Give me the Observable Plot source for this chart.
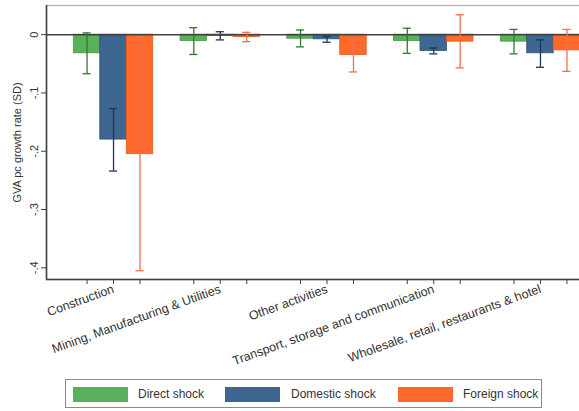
<!DOCTYPE html>
<html><head><meta charset="utf-8">
<script src="https://cdn.jsdelivr.net/npm/d3@7"></script>
<script src="https://cdn.jsdelivr.net/npm/@observablehq/plot@0.6"></script>
<style>
html,body{margin:0;padding:0;background:#fff;overflow:hidden;width:579px;height:411px;font-family:"Liberation Sans",Arial,sans-serif;}
#chart{position:absolute;left:0;top:0;width:615px;}
#chart svg{max-width:none !important;width:615px !important;height:372px !important;}
#legend{position:absolute;left:65px;top:379px;width:475px;height:27px;border:1px solid #8a8a8a;background:#fff;}
#legend .sw{position:absolute;top:7px;width:55px;height:15px;}
#legend .lb{position:absolute;top:6px;font-size:12px;color:#333;line-height:16px;white-space:nowrap;}
</style></head><body>
<div id="chart"></div>
<div id="legend"></div>
<script>
const categories = ["Construction", "Mining, Manufacturing & Utilities", "Other activities", "Transport, storage and communication", "Wholesale, retail, restaurants & hotel"];
const shocks = ["Direct shock", "Domestic shock", "Foreign shock"];

const directValue  = [-0.032, -0.011, -0.007, -0.011, -0.012];
const directLow    = [-0.067, -0.034, -0.021, -0.032, -0.033];
const directHigh   = [ 0.003,  0.012,  0.008,  0.011,  0.009];

const domesticValue = [-0.180, -0.002, -0.008, -0.028, -0.032];
const domesticLow   = [-0.234, -0.009, -0.013, -0.033, -0.056];
const domesticHigh  = [-0.127,  0.005, -0.003, -0.023, -0.009];

const foreignValue = [-0.205, -0.004, -0.035, -0.012, -0.027];
const foreignLow   = [-0.405, -0.012, -0.064, -0.057, -0.063];
const foreignHigh  = [-0.004,  0.004, -0.007,  0.034,  0.009];

const yTicks = [0, -0.1, -0.2, -0.3, -0.4];
const yTickLabels = ["0", "-.1", "-.2", "-.3", "-.4"];

const barColors = ["#5bb05b", "#3d6690", "#ff6a2c"];
const barEdges  = ["#4a9a4a", "#2f5478", "#e85a20"];
const errColors = ["#2c7a30", "#1c3656", "#f2704e"];

// layout constants (in category units)
const slot = 0.248, half = 0.124, cap = 0.038;
const xDomain = [-0.628, 4.628];
const yDomain = [-0.42, 0.05];

const series = [[directValue, directLow, directHigh], [domesticValue, domesticLow, domesticHigh], [foreignValue, foreignLow, foreignHigh]];
const rows = [];
categories.forEach((c, i) => series.forEach(([v, lo, hi], j) => rows.push({cat: i, shock: j, value: v[i], low: lo[i], high: hi[i]})));
const pos = d => d.cat + (d.shock - 1) * slot;
const barTicks = rows.map(pos);

const plot = Plot.plot({
  width: 615, height: 372,
  marginLeft: 46, marginRight: 8, marginTop: 5, marginBottom: 93,
  style: {fontFamily: "'Liberation Sans', Arial, sans-serif", fontSize: "12px", color: "#333", background: "#fff"},
  x: {type: "linear", domain: xDomain, axis: null},
  y: {domain: yDomain, axis: null},
  marks: [
    Plot.frame({stroke: "#b8b8b8", strokeWidth: 1.5}),
    Plot.rect(rows, {x1: d => pos(d) - half, x2: d => pos(d) + half, y1: 0, y2: "value",
      fill: d => barColors[d.shock], stroke: d => barEdges[d.shock], strokeWidth: 0.8}),
    Plot.ruleY([0], {stroke: "#404040", strokeWidth: 1.5}),
    Plot.ruleX(rows, {x: pos, y1: "low", y2: "high", stroke: d => errColors[d.shock], strokeWidth: 1.3}),
    Plot.ruleY(rows, {y: "high", x1: d => pos(d) - cap, x2: d => pos(d) + cap, stroke: d => errColors[d.shock], strokeWidth: 1.3}),
    Plot.ruleY(rows, {y: "low", x1: d => pos(d) - cap, x2: d => pos(d) + cap, stroke: d => errColors[d.shock], strokeWidth: 1.3}),
    Plot.ruleX([xDomain[0]], {stroke: "#404040", strokeWidth: 1.5}),
    Plot.ruleY([yDomain[0]], {stroke: "#404040", strokeWidth: 1.5}),
    Plot.axisY({ticks: yTicks, tickFormat: d => yTickLabels[yTicks.indexOf(d)], tickSize: 5, tickRotate: -90,
      stroke: "#404040", fontSize: 11, label: "GVA pc growth rate (SD)", labelAnchor: "center", labelArrow: false, labelOffset: 33}),
    Plot.axisX({ticks: barTicks, tickSize: 5, tickFormat: () => "", stroke: "#404040", label: null}),
    Plot.axisX({ticks: [0, 1, 2, 3, 4], tickSize: 0, tickPadding: 9, tickRotate: -20, tickFormat: i => categories[i], fontSize: 12.5, label: null})
  ]
});
document.getElementById("chart").appendChild(plot);

const legend = document.getElementById("legend");
const swX = [7, 159, 332], lbX = [72, 225, 397];
shocks.forEach((s, j) => {
  const sw = document.createElement("div");
  sw.className = "sw"; sw.style.left = swX[j] + "px"; sw.style.background = barColors[j];
  legend.appendChild(sw);
  const lb = document.createElement("div");
  lb.className = "lb"; lb.style.left = lbX[j] + "px"; lb.textContent = s;
  legend.appendChild(lb);
});
</script>
</body></html>
